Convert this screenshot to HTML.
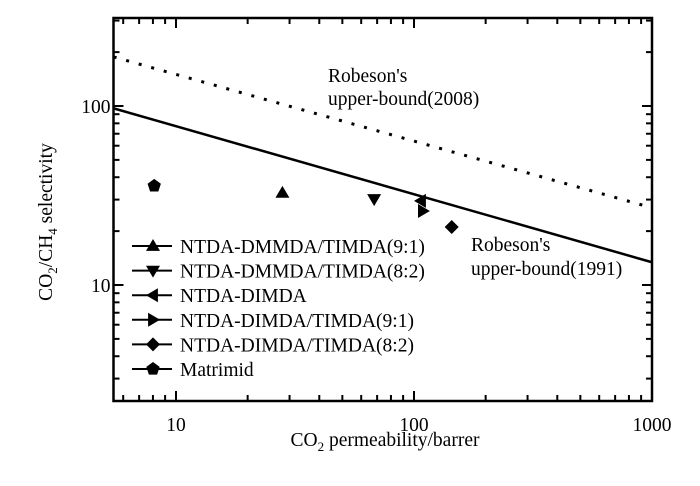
<!DOCTYPE html>
<html><head><meta charset="utf-8"><style>
body{margin:0;background:#fff}
svg text{font-family:"Liberation Serif",serif;fill:#000}
</style></head><body>
<svg width="700" height="481" viewBox="0 0 700 481">
<g id="ax"></g>
<g id="lines"></g>
<g id="pts"></g>
<g id="leg"></g>
<text x="328" y="82" font-size="19.5">Robeson's</text>
<text x="328" y="105" font-size="19.5">upper-bound(2008)</text>
<text x="471" y="251" font-size="19.5">Robeson's</text>
<text x="471" y="275" font-size="19.5">upper-bound(1991)</text>
<text x="385" y="446" font-size="19.5" text-anchor="middle">CO<tspan font-size="13" dy="5">2</tspan><tspan dy="-5"> permeability/barrer</tspan></text>
<text transform="translate(52,222) rotate(-90)" font-size="19.5" text-anchor="middle">CO<tspan font-size="13" dy="5">2</tspan><tspan dy="-5">/CH</tspan><tspan font-size="13" dy="5">4</tspan><tspan dy="-5"> selectivity</tspan></text>
</svg>
<script>
const names=["NTDA-DMMDA/TIMDA(9:1)","NTDA-DMMDA/TIMDA(8:2)","NTDA-DIMDA","NTDA-DIMDA/TIMDA(9:1)","NTDA-DIMDA/TIMDA(8:2)","Matrimid"];
const markers=["up","down","left","right","diamond","pent"];
const permX=[28,68,107,109,144,8.1];
const selY=[32.7,30.2,29.5,25.9,21.1,35.8];
const line1991X=[5.47,1000];
const line1991Y=[97,13.4];
const line2008X=[5.47,1000];
const line2008Y=[188,27];
const xTicks=[10,100,1000];
const yTicks=[10,100];
const NS="http://www.w3.org/2000/svg";
const L=113.5,R=652,T=18,B=401;
function sx(v){return 176+(Math.log10(v)-1)*238;}
function sy(v){return 285-(Math.log10(v)-1)*179;}
function mk(t,a,p){const e=document.createElementNS(NS,t);for(const k in a)e.setAttribute(k,a[k]);p.appendChild(e);return e;}
const ax=document.getElementById('ax');
const frame=mk('rect',{x:L,y:T,width:R-L,height:B-T,fill:'none',stroke:'#000','stroke-width':2.5},ax);


for(let d=0;d<=3;d++)for(let m=1;m<10;m++){const v=m*Math.pow(10,d);const x=sx(v);if(x<L+1||x>R-1)continue;const len=m==1?10:6;
mk('line',{x1:x,x2:x,y1:B,y2:B-len,stroke:'#000','stroke-width':2},ax);mk('line',{x1:x,x2:x,y1:T,y2:T+len,stroke:'#000','stroke-width':2},ax);}
for(let d=0;d<=3;d++)for(let m=1;m<10;m++){const v=m*Math.pow(10,d);const y=sy(v);if(y<T+1||y>B-1)continue;const len=m==1?10:6;
mk('line',{y1:y,y2:y,x1:L,x2:L+len,stroke:'#000','stroke-width':2},ax);mk('line',{y1:y,y2:y,x1:R,x2:R-len,stroke:'#000','stroke-width':2},ax);}
xTicks.forEach(v=>{const t=mk('text',{x:sx(v),y:B+30,'font-size':19.5,'text-anchor':'middle'},ax);t.textContent=v;

});
yTicks.forEach(v=>{const t=mk('text',{x:L-3,y:sy(v)+7,'font-size':19.5,'text-anchor':'end'},ax);t.textContent=v;

});
const ln=document.getElementById('lines');
const l1=mk('line',{x1:sx(line1991X[0]),y1:sy(line1991Y[0]),x2:sx(line1991X[1]),y2:sy(line1991Y[1]),stroke:'#000','stroke-width':2.5},ln);


const l2=mk('line',{x1:sx(line2008X[0]),y1:sy(line2008Y[0]),x2:sx(line2008X[1]),y2:sy(line2008Y[1]),stroke:'#000','stroke-width':3,'stroke-dasharray':'3 10'},ln);


function marker(type,x,y,p){let pts;const s=7;
if(type=='up')pts=[[0,-s],[s,s*0.7],[-s,s*0.7]];
else if(type=='down')pts=[[0,s],[s,-s*0.7],[-s,-s*0.7]];
else if(type=='left')pts=[[-s,0],[s*0.7,-s],[s*0.7,s]];
else if(type=='right')pts=[[s,0],[-s*0.7,-s],[-s*0.7,s]];
else if(type=='diamond')pts=[[0,-s],[s,0],[0,s],[-s,0]];
else{pts=[];for(let i=0;i<5;i++){const a=-Math.PI/2+i*2*Math.PI/5;pts.push([s*Math.cos(a),s*Math.sin(a)]);}}
return mk('polygon',{points:pts.map(q=>(x+q[0])+','+(y+q[1])).join(' '),fill:'#000'},p);}
const pg=document.getElementById('pts');
permX.forEach((v,i)=>{const m=marker(markers[i],sx(v),sy(selY[i]),pg);

});
const lg=document.getElementById('leg');
names.forEach((n,i)=>{const y=246+i*24.6;
const g=mk('g',{},lg);


mk('line',{x1:132,x2:172,y1:y,y2:y,stroke:'#000','stroke-width':2},g);
marker(markers[i],153,y,g);
const t=mk('text',{x:180,y:y+7,'font-size':19.5},g);t.textContent=n;});
</script>
</body></html>
